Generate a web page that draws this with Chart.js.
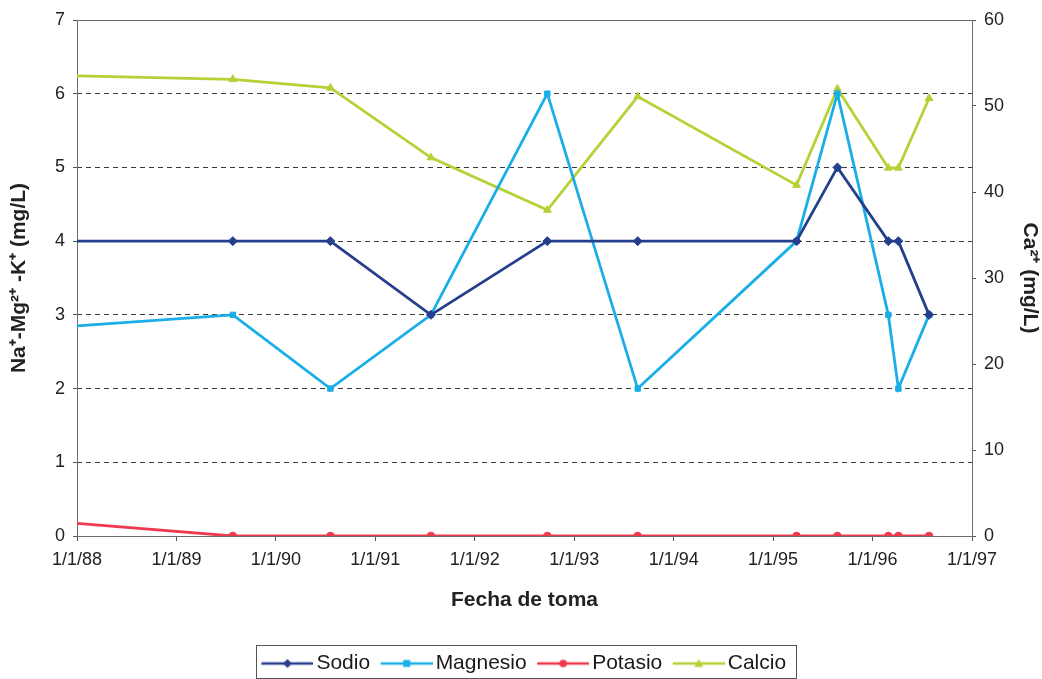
<!DOCTYPE html>
<html lang="es">
<head>
<meta charset="UTF-8">
<title>Fecha de toma</title>
<script src="https://cdn.jsdelivr.net/npm/chart.js"></script>
<style>
  html, body { margin: 0; padding: 0; background: #fff; }
  #wrap { width: 1042px; height: 679px; }
</style>
</head>
<body>
<div id="wrap"><canvas id="chart"></canvas></div>
<script>
// sample dates (first one is where the lines enter the plot at 1/1/88)
const fechas = ['1988-01-01', '1989-07-27', '1990-07-20', '1991-07-24', '1992-09-24', '1993-08-22',
                '1995-03-28', '1995-08-25', '1996-02-28', '1996-04-05', '1996-07-27'];
const sodio    = [4, 4, 4, 3, 4, 4, 4, 5, 4, 4, 3];
const magnesio = [2.85, 3, 2, 3, 6, 2, 4, 6, 3, 2, 3];
const potasio  = [0.17, 0, 0, 0, 0, 0, 0, 0, 0, 0, 0];
const calcio   = [53.5, 53.1, 52.1, 44.0, 37.9, 51.1, 40.8, 52.0, 42.8, 42.8, 50.9];
const yearTicks = [1988, 1989, 1990, 1991, 1992, 1993, 1994, 1995, 1996, 1997];

function toYear(s) {
    const d = Date.parse(s + 'T00:00:00Z');
    const y = new Date(d).getUTCFullYear();
    const a = Date.UTC(y, 0, 1), b = Date.UTC(y + 1, 0, 1);
    return y + (d - a) / (b - a);
}
const xs = fechas.map(toYear);
const pts = arr => arr.map((v, i) => ({ x: xs[i], y: v }));
// no marker on the clipped entry point
const radii = r => fechas.map((f, i) => i === 0 ? 0 : r);

const FONT = "'Liberation Sans', Arial, sans-serif";
const colors = { sodio: '#263f8c', magnesio: '#1aaee8', potasio: '#ee3a4c', calcio: '#b4d236' };

// legend icon: line with the marker in the middle (left part of the canvas left empty for spacing)
function legendIcon(color, style) {
    const c = document.createElement('canvas');
    c.width = 65; c.height = 12;
    const g = c.getContext('2d');
    g.strokeStyle = color; g.fillStyle = color; g.lineWidth = 2.5;
    g.beginPath(); g.moveTo(13, 6); g.lineTo(65, 6); g.stroke();
    const m = 39;
    g.beginPath();
    if (style === 'rectRot') { g.moveTo(m, 1.5); g.lineTo(m + 4.5, 6); g.lineTo(m, 10.5); g.lineTo(m - 4.5, 6); }
    else if (style === 'rect') { g.rect(m - 3.5, 2.5, 7, 7); }
    else if (style === 'circle') { g.arc(m, 6, 3.8, 0, Math.PI * 2); }
    else { g.moveTo(m, 1.5); g.lineTo(m + 4.5, 9.5); g.lineTo(m - 4.5, 9.5); }
    g.closePath(); g.fill();
    return c;
}

const frame = {
    id: 'frame',
    beforeDatasetsDraw(chart) {
        const { ctx, chartArea: a } = chart;
        ctx.save();
        ctx.strokeStyle = '#6e6e6e';
        ctx.lineWidth = 1;
        ctx.strokeRect(Math.round(a.left) + 0.5, Math.round(a.top) + 0.5,
                       Math.round(a.right - a.left), Math.round(a.bottom - a.top));
        ctx.restore();
    },
    afterDraw(chart) {
        const boxes = chart.legend.legendHitBoxes;
        if (!boxes || !boxes.length) return;
        const last = boxes[boxes.length - 1];
        const l = boxes[0].left;
        const r = last.left + last.width + 10;
        const t = boxes[0].top - 8.5, h = 33;
        const ctx = chart.ctx;
        ctx.save();
        ctx.strokeStyle = '#555';
        ctx.lineWidth = 1;
        ctx.strokeRect(Math.round(l) + 0.5, Math.round(t) + 0.5, Math.round(r - l), h);
        ctx.restore();
    }
};

function serie(label, data, color, style, r, axis) {
    return {
        label, data: pts(data), yAxisID: axis,
        borderColor: color, backgroundColor: color,
        borderWidth: 2.8, pointStyle: style, pointRadius: radii(r),
        pointBorderWidth: 1, pointHoverRadius: radii(r),
        legendIcon: legendIcon(color, style)
    };
}

new Chart(document.getElementById('chart'), {
    type: 'line',
    data: {
        datasets: [
            serie('Sodio', sodio, colors.sodio, 'rectRot', 4.5, 'y'),
            serie('Magnesio', magnesio, colors.magnesio, 'rect', 3.8, 'y'),
            serie('Potasio', potasio, colors.potasio, 'circle', 3.8, 'y'),
            serie('Calcio', calcio, colors.calcio, 'triangle', 4.5, 'y1')
        ]
    },
    options: {
        responsive: true,
        maintainAspectRatio: false,
        animation: false,
        layout: { padding: { top: 20, left: 0, right: 0, bottom: -5 } },
        plugins: {
            tooltip: { enabled: false },
            legend: {
                position: 'bottom',
                labels: {
                    usePointStyle: true,
                    pointStyleWidth: 50,
                    padding: 5,
                    color: '#1a1a1a',
                    font: { family: FONT, size: 21 },
                    generateLabels(chart) {
                        return chart.data.datasets.map((ds, i) => ({
                            text: ds.label, pointStyle: ds.legendIcon,
                            fillStyle: ds.borderColor, strokeStyle: ds.borderColor,
                            lineWidth: 0, hidden: false, datasetIndex: i, fontColor: '#1a1a1a'
                        }));
                    }
                }
            }
        },
        scales: {
            x: {
                type: 'linear',
                min: 1988, max: 1997,
                afterBuildTicks(scale) { scale.ticks = yearTicks.map(v => ({ value: v })); },
                afterFit(scale) { scale.height = 112; },
                grid: { drawOnChartArea: false, drawTicks: true, tickLength: 5, tickColor: '#555' },
                border: { display: false },
                ticks: {
                    color: '#222', padding: 8, maxRotation: 0, autoSkip: false,
                    font: { family: FONT, size: 18 },
                    callback: v => '1/1/' + String(v).slice(2)
                },
                title: {
                    display: true, text: 'Fecha de toma', color: '#222',
                    font: { family: FONT, size: 21, weight: 'bold' }, padding: { top: 0, bottom: 35 }
                }
            },
            y: {
                position: 'left',
                min: 0, max: 7,
                afterFit(scale) { scale.width = 77; },
                ticks: { stepSize: 1, color: '#222', padding: 8, font: { family: FONT, size: 18 } },
                grid: {
                    color: c => (c.tick && (c.tick.value === 0 || c.tick.value === 7)) ? 'rgba(0,0,0,0)' : '#3a3a3a',
                    lineWidth: 1, drawTicks: true, tickLength: 4, tickColor: '#555', tickBorderDash: []
                },
                border: { display: false, dash: [5, 4] },
                title: {
                    display: true, text: 'Na⁺-Mg²⁺ -K⁺ (mg/L)', color: '#222',
                    font: { family: FONT, size: 21, weight: 'bold' }, padding: { top: 7, bottom: 0 }
                }
            },
            y1: {
                position: 'right',
                min: 0, max: 60,
                afterFit(scale) { scale.width = 70; },
                ticks: { stepSize: 10, color: '#222', padding: 8, font: { family: FONT, size: 18 } },
                grid: { drawOnChartArea: false, drawTicks: true, tickLength: 4, tickColor: '#555' },
                border: { display: false },
                title: {
                    display: true, text: 'Ca²⁺ (mg/L)', color: '#222',
                    font: { family: FONT, size: 21, weight: 'bold' }, padding: { top: 0, bottom: 0 }
                }
            }
        }
    },
    plugins: [frame]
});
</script>
</body>
</html>
